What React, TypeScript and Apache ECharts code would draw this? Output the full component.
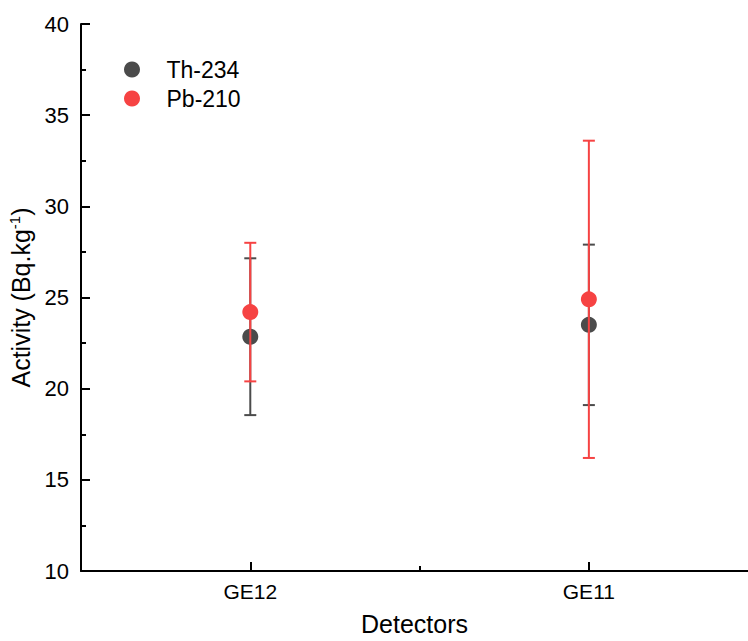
import React, { useEffect, useRef } from "react";
import * as echarts from "echarts";

const categories = ["GE12", "GE11"];
const seriesNames = ["Th-234", "Pb-210"];
const thValues = [22.85, 23.5];
const thErrors = [4.3, 4.4];
const pbValues = [24.2, 24.9];
const pbErrors = [3.8, 8.7];
const yTicks = { min: 10, max: 40, interval: 5 };

const TH_COLOR = "#4b4b4b";
const PB_COLOR = "#f64343";
const FONT = "'Liberation Sans', Arial, sans-serif";

function errorSeries(name: string, values: number[], errors: number[], color: string, z: number) {
  return {
    type: "custom",
    name,
    z,
    xAxisIndex: 0,
    yAxisIndex: 0,
    encode: { x: 0, y: 1 },
    data: values.map((v, i) => [i + 1, v, errors[i]]),
    renderItem: (_params: any, api: any) => {
      const x = api.value(0);
      const y = api.value(1);
      const e = api.value(2);
      const top = api.coord([x, y + e]);
      const bot = api.coord([x, y - e]);
      const hw = 6;
      const style = { stroke: color, lineWidth: 2 };
      return {
        type: "group",
        children: [
          { type: "line", shape: { x1: top[0], y1: top[1], x2: bot[0], y2: bot[1] }, style },
          { type: "line", shape: { x1: top[0] - hw, y1: top[1], x2: top[0] + hw, y2: top[1] }, style },
          { type: "line", shape: { x1: bot[0] - hw, y1: bot[1], x2: bot[0] + hw, y2: bot[1] }, style },
        ],
      };
    },
  };
}

export default function App() {
  const ref = useRef<HTMLDivElement>(null);
  useEffect(() => {
    document.body.style.margin = "0";
    const chart = echarts.init(ref.current!, undefined, { renderer: "svg" });
    const xMax = 2.47;
    chart.setOption({
      animation: false,
      backgroundColor: "#ffffff",
      textStyle: { fontFamily: FONT },
      grid: { left: 81, right: 0, top: 24, bottom: 70, outerBoundsMode: "none", containLabel: false },
      legend: {
        orient: "vertical",
        left: 119,
        top: 53,
        itemWidth: 59,
        itemHeight: 16,
        itemGap: 6,
        textStyle: { fontSize: 23, color: "#000", lineHeight: 23, fontFamily: FONT },
        data: [
          { name: seriesNames[0], icon: "circle", itemStyle: { color: TH_COLOR } },
          { name: seriesNames[1], icon: "circle", itemStyle: { color: PB_COLOR } },
        ],
      },
      xAxis: [
        {
          type: "value",
          min: 0.5,
          max: xMax,
          interval: 0.5,
          position: "bottom",
          name: "Detectors",
          nameLocation: "middle",
          nameGap: 42,
          nameTextStyle: { fontSize: 25, lineHeight: 22, color: "#000", fontFamily: FONT },
          axisLine: { show: true, lineStyle: { color: "#000", width: 2 } },
          axisTick: { show: true, inside: true, length: 9, customValues: [1, 2], lineStyle: { color: "#000", width: 2 } },
          axisLabel: {
            customValues: [1, 2],
            fontSize: 21,
            color: "#000",
            margin: 10,
            fontFamily: FONT,
            formatter: (v: number) => categories[Math.round(v) - 1] ?? "",
          },
          splitLine: { show: false },
        },
        {
          type: "value",
          min: 0.5,
          max: xMax,
          interval: 0.5,
          position: "bottom",
          offset: 0,
          axisLine: { show: false },
          axisTick: { show: true, inside: true, length: 5, customValues: [1.5], lineStyle: { color: "#000", width: 2 } },
          axisLabel: { show: false },
          splitLine: { show: false },
        },
      ],
      yAxis: {
        type: "value",
        min: yTicks.min,
        max: yTicks.max,
        interval: yTicks.interval,
        name: "{a|Activity (Bq.kg}{s|-1}{a|)}",
        nameLocation: "middle",
        nameGap: 34,
        nameTextStyle: {
          fontFamily: FONT,
          rich: {
            a: { fontSize: 25, color: "#000", lineHeight: 28, fontFamily: FONT },
            s: { fontSize: 15, color: "#000", lineHeight: 15, verticalAlign: "top", fontFamily: FONT },
          },
        },
        axisLine: { show: true, lineStyle: { color: "#000", width: 2 } },
        axisTick: { show: true, inside: true, length: 9, lineStyle: { color: "#000", width: 2 } },
        minorTick: { show: true, splitNumber: 2, length: 5, lineStyle: { color: "#000", width: 2 } },
        axisLabel: { fontSize: 22, color: "#000", margin: 12, fontFamily: FONT },
        splitLine: { show: false },
      },
      series: [
        errorSeries("Th-234 err", thValues, thErrors, TH_COLOR, 2),
        {
          type: "scatter",
          name: seriesNames[0],
          z: 3,
          symbol: "circle",
          symbolSize: 16,
          itemStyle: { color: TH_COLOR, opacity: 1 },
          data: thValues.map((v, i) => [i + 1, v]),
        },
        errorSeries("Pb-210 err", pbValues, pbErrors, PB_COLOR, 4),
        {
          type: "scatter",
          name: seriesNames[1],
          z: 5,
          symbol: "circle",
          symbolSize: 16,
          itemStyle: { color: PB_COLOR, opacity: 1 },
          data: pbValues.map((v, i) => [i + 1, v]),
        },
      ],
    });
    return () => chart.dispose();
  }, []);
  return <div ref={ref} style={{ width: 748, height: 641 }} />;
}
